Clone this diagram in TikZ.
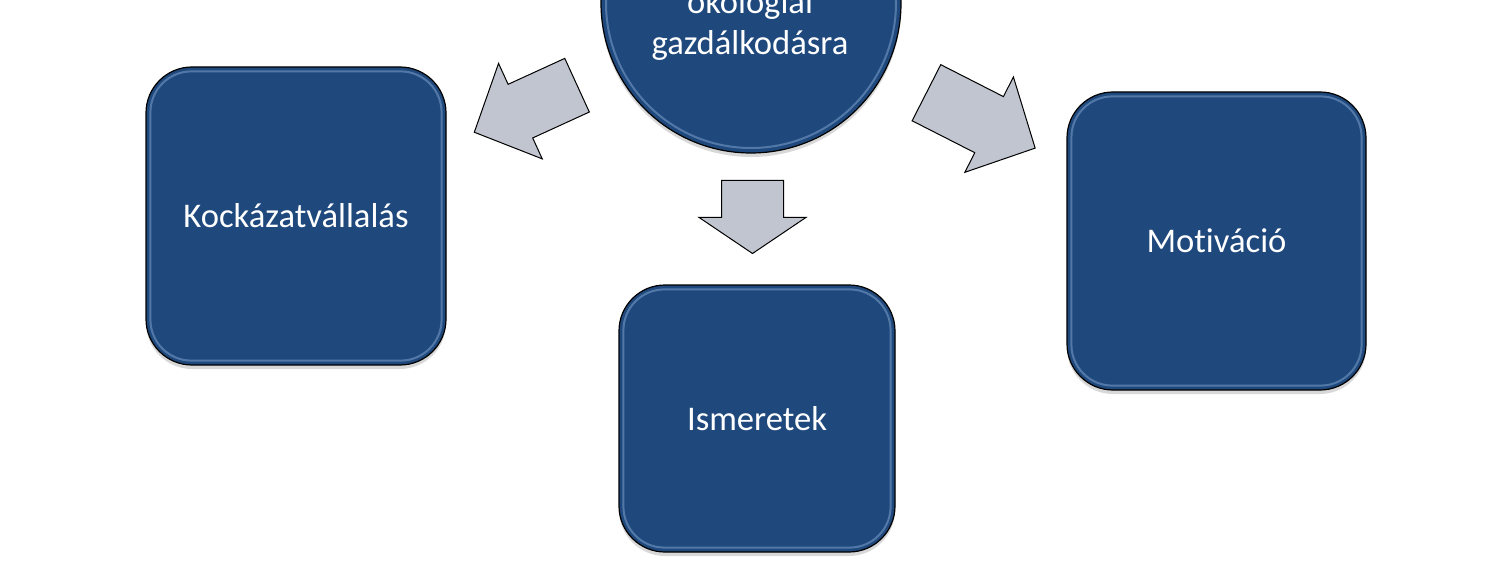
\documentclass[tikz,border=0pt]{standalone}
\usepackage{fontspec}
\setmainfont{Carlito}[Ligatures=NoCommon]
\usetikzlibrary{shapes.arrows,shadows}
\definecolor{boxblue}{RGB}{31,73,125}
\definecolor{arrowgray}{RGB}{192,197,208}
\definecolor{rimblue}{RGB}{125,160,205}
\begin{document}
\begin{tikzpicture}[x=1pt,y=-1pt,
  card/.style={draw=black,line width=1.2pt,fill=boxblue,rounded corners=46pt,inner sep=0pt,
    text=white,font=\fontsize{34.6}{41.5}\selectfont,
    drop shadow={shadow xshift=0pt,shadow yshift=-4pt,opacity=0.3}},
  hubstyle/.style={draw=black,line width=1.2pt,fill=boxblue,circle,inner sep=0pt,
    drop shadow={shadow xshift=0pt,shadow yshift=-4pt,opacity=0.3}},
  txt/.style={text=white,font=\fontsize{34.6}{41.5}\selectfont,inner sep=0pt},
  rim/.style={draw=rimblue,line width=2pt,opacity=0.55},
  garrow/.style={single arrow,draw=black,line width=1pt,fill=arrowgray,inner xsep=0pt,
    single arrow head indent=0pt}]
\useasboundingbox (0,0) rectangle (1502,564);
\fill[white] (0,0) rectangle (1502,564);
\clip (0,0) rectangle (1502,564);

% hub circle
\node[hubstyle,minimum size=300pt] (hub) at (751,3) {};
\draw[rim] (hub.center) circle (145pt);
\node[txt,anchor=base] (hubA) at (750,14) {ökológiai};
\node[txt,anchor=base] (hubB) at (750,55) {gazdálkodásra};

% boxes
\node[card,minimum width=300pt,minimum height=298pt] (risk) at (296,216) {Kockázatvállalás};
\node[card,minimum width=276pt,minimum height=267pt] (know) at (757,418.5) {Ismeretek};
\node[card,minimum width=299pt,minimum height=298pt] (motiv) at (1216.5,241) {Motiváció};

\foreach \b in {risk,know,motiv}{
  \draw[rim,rounded corners=41pt] ([shift={(5pt,-5pt)}]\b.north west) rectangle ([shift={(-5pt,5pt)}]\b.south east);
}

% block arrows
\node[garrow,inner ysep=29pt,minimum height=113pt,single arrow head extend=23pt,
  single arrow tip angle=92,rotate=204.6,anchor=tail] (arrL) at (577.5,85) {};
\node[garrow,inner ysep=31pt,minimum height=122pt,single arrow head extend=22pt,
  single arrow tip angle=92,rotate=-27,anchor=tail] (arrR) at (926,92.5) {};
\node[garrow,inner ysep=30.5pt,minimum height=73pt,single arrow head extend=22.5pt,
  single arrow tip angle=112,rotate=-90,anchor=tail] (arrD) at (752.5,180) {};
\end{tikzpicture}
\end{document}
